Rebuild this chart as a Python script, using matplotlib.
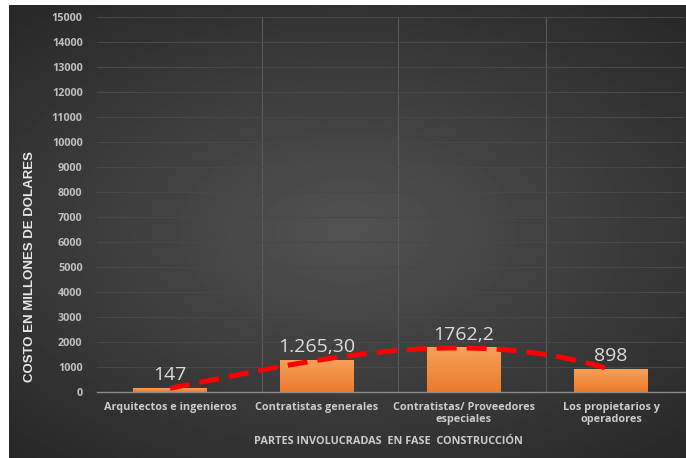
import numpy as np
import matplotlib.pyplot as plt
from matplotlib.colors import LinearSegmentedColormap

categories = ["Arquitectos e ingenieros", "Contratistas generales",
              "Contratistas/ Proveedores\nespeciales", "Los propietarios y\noperadores"]
costs = [147, 1265.30, 1762.2, 898]
cost_labels = ["147", "1.265,30", "1762,2", "898"]
y_ticks = list(range(0, 15001, 1000))

W, H = 686, 458
fig = plt.figure(figsize=(W / 100, H / 100), dpi=100, facecolor="white")

# dark radial gradient background
bg = fig.add_axes([9 / W, 0, 1 - 9 / W, (H - 5) / H], zorder=0)
gx, gy = np.meshgrid(np.linspace(-1, 1, 400), np.linspace(-1, 1, 300))
r = np.sqrt((gx * 0.9) ** 2 + (gy * 1.0) ** 2)
bg.imshow(np.clip(r, 0, 1.4), cmap="gray_r", vmin=-5.5, vmax=2.6, aspect="auto")
bg.axis("off")

ax = fig.add_axes([96.5 / W, (H - 392) / H, 588 / W, 375 / H], zorder=1)
ax.patch.set_alpha(0)

x = np.arange(len(costs))
bars = ax.bar(x, costs, width=0.5, color="#f28a3a", zorder=3)

# orange gradient fill on the bars
orange = LinearSegmentedColormap.from_list("orng", ["#ec7a2b", "#f6a05a"])
grad = np.linspace(0, 1, 100).reshape(-1, 1)
for b in bars:
    x0, w, h = b.get_x(), b.get_width(), b.get_height()
    ax.imshow(grad, extent=[x0, x0 + w, 0, h], origin="lower", cmap=orange,
              aspect="auto", zorder=3.1)

# polynomial trendline like Excel
coef = np.polyfit(x, costs, 3)
xs = np.linspace(0, 3, 200)
ax.plot(xs, np.polyval(coef, xs), color="#ff0000", lw=3.6, ls=(0, (4, 2)), zorder=4)

for xi, v, lab in zip(x, costs, cost_labels):
    ax.annotate(lab, (xi, v), xytext=(0, 3), textcoords="offset points",
                ha="center", va="bottom", color="#dcdcdc", fontsize=14,
                family="Open Sans", zorder=5)

ax.set_xlim(-0.5, 3.5)
ax.set_ylim(0, 15000)
ax.set_yticks(y_ticks)
ax.set_yticklabels([str(t) for t in y_ticks])
ax.set_xticks(x)
ax.set_xticklabels(categories)
ax.tick_params(axis="y", length=0, pad=10, labelsize=7.8, labelcolor="#bfbfbf")
ax.tick_params(axis="x", length=0, pad=7, labelsize=7.8, labelcolor="#cccccc")
for lab in ax.get_xticklabels() + ax.get_yticklabels():
    lab.set_family("Open Sans")
    lab.set_fontweight("bold")

ax.grid(axis="y", color="#484848", lw=0.8, zorder=0)
for xv in [0.626, 1.551, 2.558]:
    ax.axvline(xv, color="#5a5a5a", lw=0.8, zorder=0)
for s in ["top", "right", "left"]:
    ax.spines[s].set_visible(False)
ax.spines["bottom"].set_color("#8a8a8a")
ax.spines["bottom"].set_linewidth(1)

fig.text(30 / W, 1 - 267 / H, "COSTO EN MILLONES DE DOLARES", rotation=90,
         ha="center", va="center", color="#e6e6e6", fontsize=9.5,
         fontweight="bold", family="Liberation Sans")
fig.text(388 / W, 1 - 441 / H, "PARTES INVOLUCRADAS  EN FASE  CONSTRUCCIÓN",
         ha="center", va="center", color="#cccccc", fontsize=7.8,
         fontweight="bold", family="Open Sans")

fig.savefig("out.png", dpi=100, facecolor="white")
